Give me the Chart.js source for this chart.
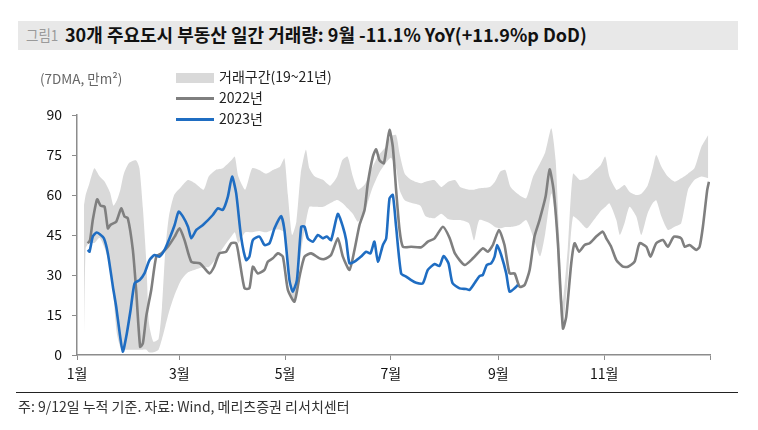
<!DOCTYPE html>
<html>
<head>
<meta charset="utf-8">
<script src="https://cdn.jsdelivr.net/npm/chart.js"></script>
<style>
  body { margin: 0; background: #fff; font-family: "Noto Sans CJK KR", "Noto Sans", sans-serif; }
  #wrap { position: relative; width: 758px; height: 430px; overflow: hidden; }
  #c { position: absolute; left: 0; top: 0; }
  .txt { position: absolute; white-space: nowrap; pointer-events: none; }
  #titlebar { position: absolute; left: 18px; top: 21px; width: 720px; height: 29px; background: #e8e8e8; }
  #fig { left: 26px; top: 24px; font-size: 15px; color: #9a9a9a; transform: scaleX(0.9); transform-origin: left; }
  #title { left: 65px; top: 21px; font-size: 18px; font-weight: bold; color: #111; }
  #unit { left: 40px; top: 68px; font-size: 13.5px; color: #666; }
  .leg { left: 219px; font-size: 14px; color: #222; }
  .sw { position: absolute; left: 176px; width: 38px; }
  #rule { position: absolute; left: 16px; top: 392px; width: 722px; height: 1px; background: #222; }
  #note { left: 18px; top: 396px; font-size: 14px; color: #333; }
</style>
</head>
<body>
<div id="wrap">
  <canvas id="c" width="758" height="430"></canvas>
  <div id="titlebar"></div>
  <div class="txt" id="fig">그림1</div>
  <div class="txt" id="title">30개 주요도시 부동산 일간 거래량: 9월 -11.1% YoY(+11.9%p DoD)</div>
  <div class="txt" id="unit">(7DMA, 만m²)</div>
  <div class="sw" style="top:73px;height:10px;background:#d9d9d9"></div>
  <div class="txt leg" style="top:66px">거래구간(19~21년)</div>
  <div class="sw" style="top:97px;height:3px;background:#7f7f7f"></div>
  <div class="txt leg" style="top:87px">2022년</div>
  <div class="sw" style="top:118px;height:3px;background:#1f6dc2"></div>
  <div class="txt leg" style="top:108px">2023년</div>
  <div id="rule"></div>
  <div class="txt" id="note">주: 9/12일 누적 기준. 자료: Wind, 메리츠증권 리서치센터</div>
</div>
<script>
// x = day of year (0 = 1월 1일)
var monthDays = [0, 59, 120, 181, 243, 304, 365];
var monthLabels = ["1월", "3월", "5월", "7월", "9월", "11월", ""];
var yTicks = [0, 15, 30, 45, 60, 75, 90];

// 거래구간(19~21년) 상단/하단
var bandDays = [4, 5, 7, 10, 13, 16, 19, 21, 23, 25, 27, 30, 34, 36, 38, 40, 41.5, 44, 47, 49, 51, 53, 56, 60, 64, 68, 73, 76, 80, 84, 89, 91, 93, 97, 101, 105, 109, 113, 117, 119.6, 121.6, 124, 126.5, 129, 132, 134, 137, 142, 146, 150, 153, 156, 159, 162, 166, 170, 174, 178, 181, 184, 186, 189, 193, 198, 201, 206, 210, 214, 218, 221, 226, 229, 232, 238, 241, 244, 247, 250, 255, 259, 263, 267, 270, 273.5, 276, 278, 280, 283, 286, 290, 294, 298, 302, 304.6, 307, 311, 313, 315.7, 318.6, 322.5, 325.4, 329, 332, 334, 337, 340.7, 344.6, 348.4, 352.3, 356, 360, 364];
var bandHigh = [56, 60, 64, 70, 67, 65, 61, 56, 58, 62, 68, 72, 73, 70, 55, 35, 12, 5, 6, 18, 40, 52, 60, 63, 65.6, 64.4, 62, 67, 69.4, 70, 73, 74.4, 67, 62, 70, 69.4, 68, 69.4, 70.6, 73.75, 60, 45, 50, 68, 77, 70, 67, 65.6, 63.5, 66.9, 73.1, 74.4, 67, 62, 64, 70, 75, 78, 82, 82.5, 75.6, 68, 65.6, 64.4, 65, 65.6, 63, 65, 65.6, 63, 62, 62, 62.5, 63, 65, 68.75, 69.4, 63, 60, 58.75, 66.9, 71.9, 76, 85, 73, 45, 20, 40, 68, 65.6, 66.25, 68.75, 71.25, 74.4, 66.9, 61.9, 62.5, 63.75, 61.25, 60, 60.5, 63.5, 70, 75, 70.6, 66.9, 65, 66.25, 68, 70, 78, 82.5];
var bandLow = [3, 40, 42, 42, 44, 40, 33, 22, 8, 3, 2, 2, 2, 2, 2, 2, 1, 1, 2, 6, 11, 16, 22, 28, 31, 32, 33, 33, 36, 40, 44.4, 46, 42, 46, 46, 46.5, 46, 47, 47, 46, 35, 20, 22, 38, 50, 55.6, 55.6, 55.6, 56.9, 58.1, 57, 55, 53, 50, 54, 62, 68, 72, 74, 70, 62, 58, 57, 56, 52, 51.25, 53, 51, 50.6, 50.6, 49.4, 43, 50.6, 49.4, 48, 47.5, 48, 48, 48.75, 50.6, 44.4, 37, 45.6, 60.6, 50, 23, 10, 29, 51.9, 50, 47.5, 50.6, 54, 55.5, 56.9, 50.6, 45, 49.4, 55.6, 51.9, 45, 53.1, 57, 58, 51.9, 46.9, 48.1, 49.4, 61.9, 65.6, 66.9, 66.25];

// 2022년
var days2022 = [6.2, 7.5, 9.1, 11.6, 13.6, 15.9, 17.8, 19.3, 22.6, 25.5, 27.4, 29.3, 32.2, 34.1, 36.4, 38, 39.9, 42.8, 45.7, 48.6, 52.4, 56.3, 59.1, 62, 65.9, 70.7, 73.6, 76.4, 79, 82.1, 86, 88.9, 91.8, 93.7, 96.6, 99.4, 101.4, 104.3, 108.1, 110, 112.9, 115.8, 118.7, 121.6, 125.4, 128.3, 131.2, 135, 139.8, 142.7, 146.5, 150.4, 153.3, 157.1, 160, 162.9, 165.8, 167.7, 170.6, 172.5, 174.4, 176.9, 178.3, 180.2, 182.1, 184, 186, 187.9, 192.7, 198.5, 202.3, 206.2, 211, 214.8, 218, 223.5, 228.3, 234, 236.9, 239.8, 243.3, 246.5, 249.4, 252.3, 255.2, 258.1, 261, 263.8, 266.7, 270.2, 272.5, 274.8, 277.3, 280.2, 282.1, 285, 286.9, 289.5, 292.7, 295.6, 299.4, 303.2, 305.2, 308, 311, 314.8, 317.7, 321.5, 324.4, 328.3, 330.7, 334, 337.9, 340.7, 344.2, 348.4, 350.4, 353.2, 357.1, 359, 360.9, 363.4, 364.4];
var vals2022 = [41.9, 43, 50.6, 58.4, 56, 55.6, 47.5, 48.8, 50, 55, 51.9, 51.3, 39.4, 24.4, 3.1, 4.4, 14.4, 24.4, 36.9, 38.1, 40.6, 44.4, 47.5, 43.1, 35, 34.4, 32.5, 30.6, 33, 38.1, 38.75, 41.9, 41.9, 35.6, 25, 25, 33.1, 30.6, 31.9, 35, 36.25, 38.1, 36.9, 24.4, 20, 29.4, 36.9, 38.1, 36.25, 36, 37.5, 43.75, 36.9, 31.9, 39.4, 48.75, 54.4, 64.4, 74.4, 77.1, 73.1, 71.9, 76.9, 84.4, 78.1, 61.9, 46.9, 40.6, 40.6, 40.4, 42.5, 43.75, 48.1, 44, 38, 33.75, 36.25, 40, 38.75, 41.25, 46.9, 41.25, 30.6, 30.6, 25.6, 26.25, 31.9, 44.4, 50.6, 59.4, 69.6, 61.9, 41.9, 10, 14.4, 34.4, 41.9, 38.75, 41.25, 41.9, 44.4, 46.25, 43.75, 40.6, 35.6, 33.1, 33.1, 35, 41.9, 40.6, 36.9, 41.9, 43.1, 40.6, 44.4, 43.75, 40.6, 41.25, 39.4, 40.6, 48.1, 61.9, 65];

// 2023년
var days2023 = [6.2, 7.2, 9.1, 11.1, 13, 15.5, 17.8, 20.7, 22.6, 24.5, 26.4, 28.4, 30.9, 33.2, 36.1, 38.9, 41.8, 44.7, 47.6, 50.5, 53.4, 56.3, 58.6, 61.1, 64, 65.9, 68.8, 72.6, 78.3, 81.2, 84.1, 87, 89.4, 91.8, 94.6, 97.5, 99.4, 101.4, 105.2, 108.1, 111, 113.9, 117.7, 119.6, 122.5, 124.4, 126.8, 129.3, 131.2, 133.1, 136, 138.9, 141.8, 144, 146.5, 150.4, 153.3, 155.2, 157.1, 160, 163.8, 166.7, 169.2, 171.5, 173.5, 176.4, 178.3, 180.2, 182.1, 184, 186.9, 189.8, 192.7, 195.6, 199.4, 202.3, 206.2, 209, 211.4, 214.2, 216.5, 220.6, 224.4, 226.3, 229.2, 232.1, 234, 236.3, 238.8, 240.8, 242.3, 244.6, 247.5, 249.4, 252.3, 254.2];
var vals2023 = [39.4, 38.75, 44.4, 45.9, 45.4, 43.75, 38.1, 25.6, 18.1, 8.75, 1.25, 6.9, 16.9, 26.9, 28.1, 30.6, 35.6, 37.5, 36.9, 39.4, 43.75, 48.75, 53.75, 51.9, 48.1, 43.75, 46.9, 48.75, 52.5, 55, 54.4, 59.4, 66.9, 60.6, 44.4, 35.6, 36.9, 43.1, 44.4, 41.25, 41.9, 47.5, 52.1, 46.9, 28.1, 23.75, 28.1, 48.1, 48.1, 43.75, 42.5, 45, 43.75, 44.4, 43.1, 52.9, 48.1, 43.1, 34.4, 35, 36.9, 38.75, 38.1, 42.5, 35, 41.25, 43.75, 58.75, 60, 48.1, 30.6, 29.4, 28.1, 27.1, 26.9, 31.9, 34.1, 33.4, 37.1, 34.4, 27, 25, 24.75, 24.4, 26.9, 29.6, 30, 33.75, 34.4, 36.9, 41.25, 37.5, 30.6, 23.75, 25, 26.25];

function pts(xs, ys) {
  return xs.map(function (d, i) { return { x: d, y: ys[i] }; });
}

var axisColor = "#8c8c8c";
var tickFont = { family: "'Noto Sans CJK KR', 'Noto Sans', sans-serif", size: 14 };

new Chart(document.getElementById("c"), {
  type: "line",
  data: {
    datasets: [
      { label: "2023년", data: pts(days2023, vals2023), borderColor: "#1f6dc2", borderWidth: 2.6, pointRadius: 0, fill: false, tension: 0.2, order: 0 },
      { label: "2022년", data: pts(days2022, vals2022), borderColor: "#7f7f7f", borderWidth: 2.6, pointRadius: 0, fill: false, tension: 0.2, order: 1 },
      { label: "거래구간(19~21년)", data: pts(bandDays, bandHigh), borderWidth: 0, borderColor: "rgba(0,0,0,0)", backgroundColor: "#d9d9d9", pointRadius: 0, fill: "+1", tension: 0.2, order: 2 },
      { label: "low", data: pts(bandDays, bandLow), borderWidth: 0, borderColor: "rgba(0,0,0,0)", pointRadius: 0, fill: false, tension: 0.2, order: 3 }
    ]
  },
  options: {
    responsive: false,
    animation: false,
    layout: { padding: { left: 0, right: 48, top: 115, bottom: 35 } },
    plugins: { legend: { display: false }, tooltip: { enabled: false } },
    scales: {
      x: {
        type: "linear",
        min: 0,
        max: 365,
        afterBuildTicks: function (scale) {
          scale.ticks = monthDays.map(function (d) { return { value: d }; });
        },
        afterFit: function (scale) { scale.height = 40; },
        ticks: {
          autoSkip: false,
          maxRotation: 0,
          padding: 5,
          color: "#111",
          font: tickFont,
          callback: function (v, i) { return monthLabels[i]; }
        },
        grid: { display: true, drawOnChartArea: false, drawTicks: true, tickLength: 5, color: axisColor },
        border: { display: true, color: axisColor, width: 1.5 }
      },
      y: {
        min: 0,
        max: 90,
        afterBuildTicks: function (scale) {
          scale.ticks = yTicks.map(function (v) { return { value: v }; });
        },
        afterFit: function (scale) { scale.width = 77; },
        ticks: { padding: 10, color: "#111", font: tickFont },
        grid: { display: true, drawOnChartArea: false, drawTicks: true, tickLength: 5, color: axisColor },
        border: { display: true, color: axisColor, width: 1.5 }
      }
    }
  }
});
</script>
</body>
</html>
